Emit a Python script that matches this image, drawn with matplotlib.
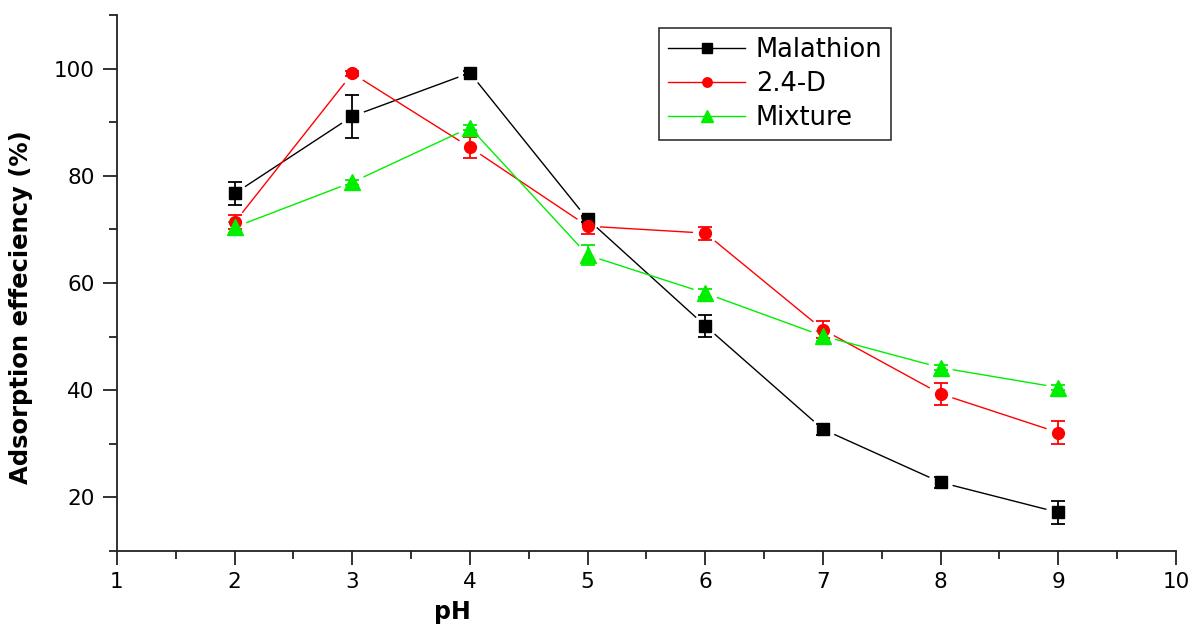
import matplotlib
matplotlib.use("Agg")
import matplotlib.pyplot as plt
from matplotlib.ticker import MultipleLocator
from matplotlib.lines import Line2D
import numpy as np

plt.rcParams['font.family'] = ['DejaVu Sans']

ph = [2, 3, 4, 5, 6, 7, 8, 9]

malathion = [76.7, 91.1, 99.2, 71.9, 52.0, 32.7, 22.8, 17.2]
malathion_err = [2.1, 4.0, 0.4, 0.6, 2.0, 1.0, 1.0, 2.1]

d24 = [71.3, 99.1, 85.3, 70.6, 69.3, 51.3, 39.3, 32.1]
d24_err = [1.3, 0.5, 2.0, 1.5, 1.2, 1.6, 2.0, 2.2]

mixture = [70.4, 78.8, 89.0, 65.2, 58.1, 50.1, 44.2, 40.5]
mixture_err = [1.0, 0.5, 0.5, 1.9, 0.7, 1.0, 0.5, 0.5]

series = [
    ("Malathion", malathion, malathion_err, "black", "s", 9),
    ("2.4-D", d24, d24_err, "red", "o", 8.5),
    ("Mixture", mixture, mixture_err, "#00ee00", "^", 11),
]

fig = plt.figure(figsize=(11.91, 6.24), dpi=100)
ax = fig.add_axes([0.0982, 0.117, 0.8892, 0.859])
ax.set_xlim(1, 10)
ax.set_ylim(10, 110)


def gapped_line(ax, x, y, color, gap=13):
    """Connect points with segments that stop short of each marker."""
    trans = ax.transData
    pts = trans.transform(np.column_stack([x, y]))
    inv = trans.inverted()
    for p0, p1 in zip(pts[:-1], pts[1:]):
        d = p1 - p0
        length = np.hypot(*d)
        if length <= 2 * gap:
            continue
        u = d / length
        a = inv.transform(p0 + u * gap)
        b = inv.transform(p1 - u * gap)
        ax.plot([a[0], b[0]], [a[1], b[1]], color=color, lw=1.0, zorder=2)


handles = []
for name, vals, errs, color, marker, ms in series:
    gapped_line(ax, ph, vals, color)
    ax.errorbar(ph, vals, yerr=errs, fmt="none", ecolor=color, elinewidth=1.3,
                capsize=4.7, capthick=1.3, zorder=3)
    ax.plot(ph, vals, linestyle="none", marker=marker, markersize=ms,
            color=color, markeredgecolor=color, zorder=4)
    handles.append(Line2D([], [], color=color, lw=1.0, marker=marker,
                          markersize=ms * 0.8, label=name))

for side in ("top", "right"):
    ax.spines[side].set_visible(False)
for side in ("left", "bottom"):
    ax.spines[side].set_linewidth(1.3)
    ax.spines[side].set_color("#222222")

ax.xaxis.set_major_locator(MultipleLocator(1))
ax.xaxis.set_minor_locator(MultipleLocator(0.5))
ax.yaxis.set_major_locator(MultipleLocator(20))
ax.yaxis.set_minor_locator(MultipleLocator(10))
ax.set_yticks([20, 40, 60, 80, 100])
ax.tick_params(axis="both", which="major", direction="out", length=10,
               width=1.3, labelsize=15.5, color="#222222")
ax.tick_params(axis="both", which="minor", direction="out", length=6,
               width=1.3, color="#222222")
ax.tick_params(axis="x", pad=5)
ax.tick_params(axis="y", pad=6)

ax.set_xlabel("pH", fontsize=17, fontweight="bold")
ax.xaxis.set_label_coords(0.317, -0.092)
ax.set_ylabel("Adsorption effeciency (%)", fontsize=17.5, fontweight="bold")
ax.yaxis.set_label_coords(-0.079, 0.455)

leg = ax.legend(handles=handles, loc="upper left",
                bbox_to_anchor=(0.5, 0.999), fontsize=18.5, frameon=True,
                fancybox=False, shadow=False, edgecolor="black",
                handlelength=3.0, handletextpad=0.4, borderpad=0.35,
                labelspacing=0.3)
leg.get_frame().set_linewidth(1.2)

fig.savefig("out.png", dpi=100, facecolor="white")
